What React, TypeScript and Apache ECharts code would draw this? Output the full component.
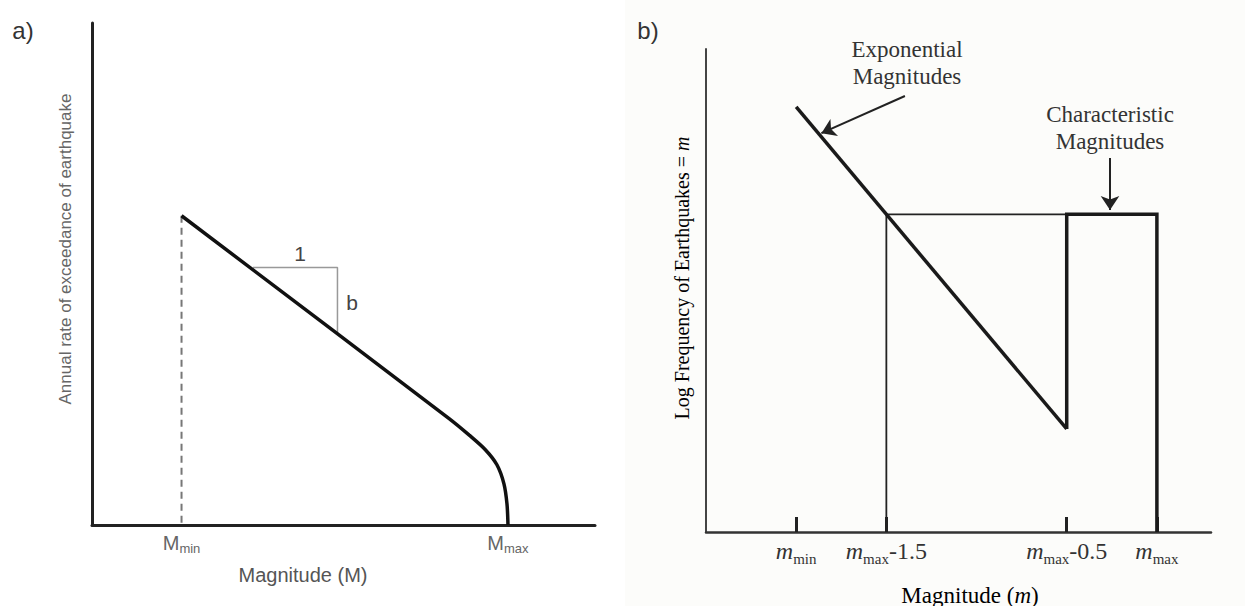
import React, { useEffect, useRef } from 'react';
import * as echarts from 'echarts';

// ---- Panel a (schematic units) ----
const aXRange = [0, 100];
const aYRange = [0, 100];
const aTickValues = [17.8, 82.7];
const aTickLabels = [['M', 'min'], ['M', 'max']];
const aCurve = [
  [17.8, 61.6], [71, 21.2], [75, 17.9], [78.2, 15.0], [80.5, 12.0],
  [81.9, 8.2], [82.5, 4.2], [82.7, 0],
];
const aDashed = [[17.8, 61.6], [17.8, 0]];
const aSlopeTriangle = [[32, 51.3], [48.8, 51.3], [48.8, 38.0]];

// ---- Panel b (magnitude / log frequency) ----
const bXRange = [4.5, 7.3];
const bYRange = [1.02, 3.27];
const bTickValues = [5.0, 5.5, 6.5, 7.0];
const bTickLabels = [['m', 'min', ''], ['m', 'max', '-1.5'], ['m', 'max', '-0.5'], ['m', 'max', '']];
const bExponential = [[5.0, 3.0], [6.5, 1.5]];
const bCharacteristic = [[6.5, 1.5], [6.5, 2.5], [7.0, 2.5], [7.0, 1.02]];
const bThin = [[5.5, 1.02], [5.5, 2.5], [6.5, 2.5]];
const bArrowExp = [[5.603, 3.051], [5.14, 2.878]];
const bArrowChar = [[6.74, 2.762], [6.74, 2.52]];

const SANS = 'Liberation Sans, Arial, sans-serif';
const SERIF = 'Liberation Serif, Times New Roman, serif';

export default function App() {
  const ref = useRef<HTMLDivElement>(null);
  useEffect(() => {
    if (!ref.current) return;
    const chart = echarts.init(ref.current, undefined, { renderer: 'svg' });
    const aLabel = (v: number) => {
      const i = aTickValues.findIndex((t) => Math.abs(t - v) < 1e-6);
      if (i < 0) return '';
      return `{M|${aTickLabels[i][0]}}{s|${aTickLabels[i][1]}}`;
    };
    const bLabel = (v: number) => {
      const i = bTickValues.findIndex((t) => Math.abs(t - v) < 1e-6);
      if (i < 0) return '';
      const [m, s, t] = bTickLabels[i];
      return `{m|${m}}{s|${s}}` + (t ? `{t|${t}}` : '');
    };
    const option: any = {
      animation: false,
      backgroundColor: '#ffffff',
      grid: [
        { left: 92, top: 23, width: 503, height: 502 },
        { left: 706, top: 49, width: 505, height: 483 },
      ],
      xAxis: [
        {
          type: 'value', gridIndex: 0, min: aXRange[0], max: aXRange[1],
          axisLine: { show: true, onZero: false, lineStyle: { color: '#222', width: 3 } },
          axisTick: { show: false },
          splitLine: { show: false },
          axisLabel: {
            customValues: aTickValues,
            formatter: aLabel,
            margin: 8,
            rich: {
              M: { fontFamily: SANS, fontSize: 20, color: '#666', verticalAlign: 'bottom' },
              s: { fontFamily: SANS, fontSize: 13, color: '#666', verticalAlign: 'bottom', padding: [0, 0, -2, 0] },
            },
          },
        },
        {
          type: 'value', gridIndex: 1, min: bXRange[0], max: bXRange[1],
          axisLine: { show: true, onZero: false, lineStyle: { color: '#333', width: 2.5 } },
          axisTick: { show: true, inside: true, length: 15, customValues: bTickValues, lineStyle: { color: '#222', width: 3 } },
          splitLine: { show: false },
          axisLabel: {
            customValues: bTickValues,
            formatter: bLabel,
            margin: 7,
            rich: {
              m: { fontFamily: SERIF, fontStyle: 'italic', fontSize: 24, color: '#333', verticalAlign: 'bottom' },
              s: { fontFamily: SERIF, fontSize: 15, color: '#333', verticalAlign: 'bottom', padding: [0, 0, -3, 0] },
              t: { fontFamily: SERIF, fontSize: 24, color: '#333', verticalAlign: 'bottom' },
            },
          },
        },
      ],
      yAxis: [
        {
          type: 'value', gridIndex: 0, min: aYRange[0], max: aYRange[1],
          axisLine: { show: true, lineStyle: { color: '#222', width: 3 } },
          axisTick: { show: false }, axisLabel: { show: false }, splitLine: { show: false },
        },
        {
          type: 'value', gridIndex: 1, min: bYRange[0], max: bYRange[1],
          axisLine: { show: true, lineStyle: { color: '#444', width: 2 } },
          axisTick: { show: false }, axisLabel: { show: false }, splitLine: { show: false },
        },
      ],
      series: [
        {
          type: 'line', xAxisIndex: 0, yAxisIndex: 0, data: aDashed, showSymbol: false,
          lineStyle: { color: '#777', width: 2, type: [7, 5] },
        },
        {
          type: 'line', xAxisIndex: 0, yAxisIndex: 0, data: aSlopeTriangle, showSymbol: false,
          lineStyle: { color: '#999', width: 1.5 },
        },
        {
          type: 'line', xAxisIndex: 0, yAxisIndex: 0, data: aCurve, showSymbol: false, smooth: 0.3,
          lineStyle: { color: '#111', width: 3.5 },
        },
        {
          type: 'line', xAxisIndex: 1, yAxisIndex: 1, data: bThin, showSymbol: false,
          lineStyle: { color: '#222', width: 1.8 },
        },
        {
          type: 'line', xAxisIndex: 1, yAxisIndex: 1, data: bCharacteristic, showSymbol: false,
          lineStyle: { color: '#1a1a1a', width: 3.5, join: 'miter' },
        },
        {
          type: 'line', xAxisIndex: 1, yAxisIndex: 1, data: bExponential, showSymbol: false,
          lineStyle: { color: '#1a1a1a', width: 3.5 },
          markLine: {
            silent: true,
            symbol: ['none', 'arrow'],
            symbolSize: 14,
            label: { show: false },
            lineStyle: { color: '#222', width: 2, type: 'solid' },
            data: [
              [{ coord: bArrowExp[0] }, { coord: bArrowExp[1] }],
              [{ coord: bArrowChar[0] }, { coord: bArrowChar[1] }],
            ],
          },
        },
      ],
      graphic: [
        { type: 'rect', z: -10, shape: { x: 625, y: 0, width: 620, height: 606 }, style: { fill: '#fcfcfa' } },
        { type: 'text', x: 23, y: 30, style: { text: 'a)', font: `24px ${SANS}`, fill: '#333', align: 'center', verticalAlign: 'middle' } },
        { type: 'text', x: 648, y: 30, style: { text: 'b)', font: `24px ${SANS}`, fill: '#333', align: 'center', verticalAlign: 'middle' } },
        { type: 'text', x: 65, y: 249, rotation: Math.PI / 2, style: { text: 'Annual rate of exceedance of earthquake', font: `17px ${SANS}`, fill: '#666', align: 'center', verticalAlign: 'middle' } },
        { type: 'text', x: 303, y: 575, style: { text: 'Magnitude (M)', font: `20px ${SANS}`, fill: '#555', align: 'center', verticalAlign: 'middle' } },
        { type: 'text', x: 300, y: 253, style: { text: '1', font: `21px ${SANS}`, fill: '#444', align: 'center', verticalAlign: 'middle' } },
        { type: 'text', x: 352, y: 302, style: { text: 'b', font: `21px ${SANS}`, fill: '#444', align: 'center', verticalAlign: 'middle' } },
        {
          type: 'text', x: 682, y: 278, rotation: Math.PI / 2,
          style: {
            text: '{a|Log Frequency of Earthquakes = }{i|m}', align: 'center', verticalAlign: 'middle',
            rich: {
              a: { fontFamily: SERIF, fontSize: 20, color: '#333' },
              i: { fontFamily: SERIF, fontSize: 20, fontStyle: 'italic', color: '#333' },
            },
          },
        },
        { type: 'text', x: 907, y: 63, style: { text: 'Exponential\nMagnitudes', font: `23px ${SERIF}`, lineHeight: 27, fill: '#333', align: 'center', verticalAlign: 'middle' } },
        { type: 'text', x: 1110, y: 128, style: { text: 'Characteristic\nMagnitudes', font: `23px ${SERIF}`, lineHeight: 27, fill: '#333', align: 'center', verticalAlign: 'middle' } },
        {
          type: 'text', x: 970, y: 595,
          style: {
            text: '{a|Magnitude (}{i|m}{a|)}', align: 'center', verticalAlign: 'middle',
            rich: {
              a: { fontFamily: SERIF, fontSize: 23, color: '#333' },
              i: { fontFamily: SERIF, fontSize: 23, fontStyle: 'italic', color: '#333' },
            },
          },
        },
      ],
    };
    chart.setOption(option);
    return () => chart.dispose();
  }, []);
  return <div ref={ref} style={{ position: 'fixed', left: 0, top: 0, width: 1245, height: 606 }} />;
}
